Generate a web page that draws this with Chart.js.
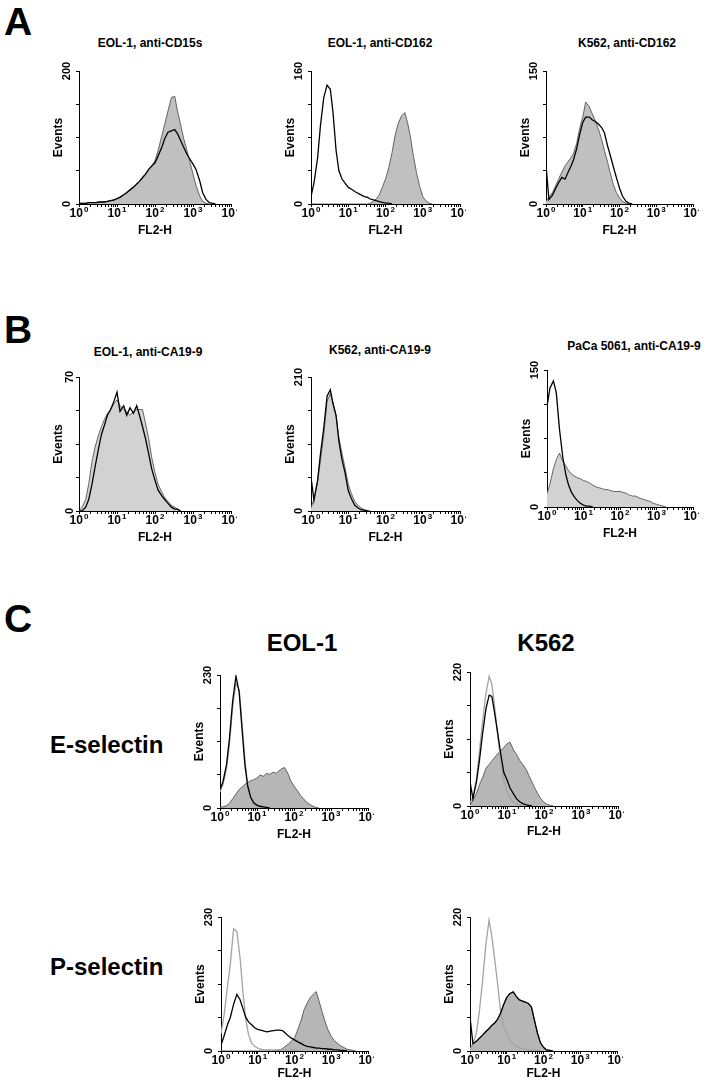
<!DOCTYPE html>
<html>
<head>
<meta charset="UTF-8">
<title>Flow cytometry histograms</title>
<script src="https://cdn.jsdelivr.net/npm/chart.js"></script>
<style>
  body { margin: 0; background: #fff; font-family: "Liberation Sans", Arial, sans-serif; }
  #page { position: relative; width: 712px; height: 1087px; overflow: hidden; }
  canvas { position: absolute; }
  .t { position: absolute; white-space: nowrap; font-weight: bold; color: #000; line-height: 1; }
  .letter { font-size: 39px; }
  .title { font-size: 12px; transform: translateX(-50%); }
  .big { font-size: 24px; }
  .mid { transform: translateX(-50%); }
</style>
</head>
<body>
<div id="page">
  <div class="t letter" style="left:4px; top:2px;">A</div>
  <div class="t letter" style="left:4px; top:310px;">B</div>
  <div class="t letter" style="left:4px; top:599px;">C</div>

  <div class="t title" style="left:150px; top:37px;">EOL-1, anti-CD15s</div>
  <div class="t title" style="left:380px; top:37px;">EOL-1, anti-CD162</div>
  <div class="t title" style="left:627px; top:37px;">K562, anti-CD162</div>

  <div class="t title" style="left:148px; top:346px;">EOL-1, anti-CA19-9</div>
  <div class="t title" style="left:380px; top:344px;">K562, anti-CA19-9</div>
  <div class="t title" style="left:634px; top:340px;">PaCa 5061, anti-CA19-9</div>

  <div class="t big mid" style="left:302px; top:631px;">EOL-1</div>
  <div class="t big mid" style="left:546px; top:631px;">K562</div>
  <div class="t big" style="left:50px; top:733px;">E-selectin</div>
  <div class="t big" style="left:50px; top:955px;">P-selectin</div>
</div>

<script>
// FL2-H channel positions (log scale)
const fl2H = [1, 1.2, 1.5, 1.8, 2.2, 2.7, 3.3, 3.9, 4.7, 5.6, 6.8, 8.2,
  10, 12, 15, 18, 22, 27, 33, 39, 47, 56, 68, 82,
  100, 120, 150, 180, 220, 270, 330, 390, 470, 560, 680, 820,
  1000, 1200, 1500, 1800, 2200, 2700, 3300, 3900, 4700, 5600, 6800, 8200, 10000];
const decades = [1, 10, 100, 1000, 10000];
const decadeExponents = ["0", "1", "2", "3", "4"];

// A: EOL-1, anti-CD15s
const eolCd15sFilled = [1,1,1,2,2,2,2,3,3,4,5,6,
  8,11,14,18,22,26,30,34,38,44,52,58,
  65,80,102,120,140,160,162,140,120,100,82,64,
  45,28,12,4,1,0];
const eolCd15sOpen = [1,1,1,2,2,2,3,3,3,4,5,6,
  8,10,14,17,21,25,30,34,40,45,52,57,
  62,72,85,98,108,110,112,106,96,86,76,68,
  60,52,35,17,7,2,1,0];
// A: EOL-1, anti-CD162
const eolCd162Open = [9,25,55,95,128,143,138,110,65,40,30,25,
  20,18,15,13,11,9,8,6,5,4,3,2,
  1,1,0];
const eolCd162Filled = [0,0,0,0,0,0,0,0,0,0,0,0,
  0,0,0,0,0,0,0,1,3,6,11,20,
  30,42,62,82,97,106,110,98,80,58,38,22,
  9,4,1,0];
// A: K562, anti-CD162
const k562Cd162Filled = [3,8,13,20,28,36,43,47,52,57,68,85,
  98,115,110,102,94,84,72,60,48,35,22,13,
  7,3,1,0];
const k562Cd162Open = [44,5,10,17,24,30,28,35,42,50,62,78,
  92,98,98,95,93,90,86,80,66,55,42,30,
  18,9,3,1,0];

// B: EOL-1, anti-CA19-9
const eolCa199Filled = [0,2,6,14,26,34,40,44,48,51,53,56,
  58,55,53,52,50,52,53,53,53,46,38,28,
  20,14,10,7,5,3,2,1,0];
const eolCa199Open = [0,0,2,6,14,24,33,40,45,50,53,57,
  62,52,55,50,54,51,55,50,44,38,30,22,
  16,11,8,6,4,2,1,1,0];
// B: K562, anti-CA19-9
const k562Ca199Filled = [5,18,45,80,120,172,184,170,150,115,90,68,
  42,28,15,9,5,2,1,0];
const k562Ca199Open = [53,17,48,90,130,180,190,168,150,110,80,60,
  32,20,9,5,2,1,0];
// B: PaCa 5061, anti-CA19-9
const pacaCa199Open = [110,130,138,125,85,55,35,24,16,11,7,4,
  2,1,1,0];
const pacaCa199Filled = [15,25,42,52,59,50,45,40,36,34,32,31,
  29,28,26,24,22,21,20,19,19,18,17,17,
  17,16,15,13,12,12,10,9,8,7,6,4,
  3,2,1,0];

// C: E-selectin, EOL-1
const eolEselOpen = [32,45,75,120,185,228,200,140,75,38,18,9,
  5,3,2,1,0];
const eolEselIso = [28,40,68,110,175,215,205,150,85,40,15,6,
  3,1,0];
const eolEselFilled = [1,2,4,8,16,24,32,36,41,44,47,49,
  52,57,55,60,58,62,60,64,68,70,60,47,
  38,31,22,16,10,6,3,1,0];
// C: E-selectin, K562
const k562EselIso = [5,15,45,90,140,185,213,200,160,115,75,42,
  25,13,6,3,1,0];
const k562EselOpen = [40,12,40,75,120,160,182,180,150,120,85,55,
  43,30,20,12,7,4,2,1,0];
const k562EselFilled = [2,10,21,35,47,62,68,74,80,86,90,96,
  102,105,92,85,75,68,60,50,40,30,20,12,
  6,3,1,0];
// C: P-selectin, EOL-1
const eolPselIso = [30,60,110,150,210,205,160,105,55,28,14,8,
  5,3,2,2,2,2,2,2,2,2,2,2,
  2,1,1,0];
const eolPselOpen = [10,25,45,58,80,97,88,74,58,50,45,40,
  37,36,34,33,34,35,36,36,35,31,26,22,
  19,16,13,10,8,7,6,5,5,4,4,3,
  3,2,2,1,1,0];
const eolPselFilled = [0,0,0,0,0,0,0,0,0,0,0,0,
  0,0,0,0,0,0,1,2,4,8,12,17,
  22,35,52,70,82,92,98,102,85,68,50,36,
  25,18,13,9,6,3,2,1,0];
// C: P-selectin, K562
const k562PselIso = [3,10,30,65,115,175,215,190,150,112,65,42,
  28,18,12,8,5,4,3,2,2,1,1,0];
const k562PselOpen = [56,12,16,21,26,32,37,42,46,52,62,76,
  88,94,97,90,84,82,80,78,72,52,30,14,
  6,2,1,0];
const k562PselFilled = [4,12,16,21,26,32,37,42,46,52,62,76,
  88,94,97,90,84,82,80,78,72,52,30,14,
  6,2,1,0];

const yMaxes = [200, 160, 150, 70, 210, 150, 230, 220, 230, 220];

const FONT = "'Liberation Sans', Arial, sans-serif";
const page = document.getElementById("page");

const minorTicks = [];
decades.slice(0, 4).forEach(d => {
  minorTicks.push(d);
  for (let k = 2; k <= 9; k++) minorTicks.push(d * k);
});
minorTicks.push(10000);

// "10" with a raised exponent under each decade tick
const decadeLabels = {
  id: "decadeLabels",
  afterDraw(chart) {
    const sx = chart.scales.x, ctx = chart.ctx;
    ctx.save();
    ctx.fillStyle = "#000";
    ctx.textBaseline = "alphabetic";
    ctx.textAlign = "left";
    decades.forEach((d, i) => {
      const px = sx.getPixelForValue(d);
      ctx.font = "bold 12px " + FONT;
      const wBase = ctx.measureText("10").width;
      ctx.font = "bold 8px " + FONT;
      const wExp = ctx.measureText(decadeExponents[i]).width;
      const left = px - (wBase + wExp + 1) / 2;
      const base = sx.top + 13;
      ctx.font = "bold 12px " + FONT;
      ctx.fillText("10", left, base);
      ctx.font = "bold 8px " + FONT;
      ctx.fillText(decadeExponents[i], left + wBase + 1, base - 5);
    });
    ctx.restore();
  }
};

function histogram(box, yMax, fillColor, sets) {
  const canvas = document.createElement("canvas");
  canvas.width = 36 + box.w + 6;
  canvas.height = 10 + box.h + box.xh;
  canvas.style.left = (box.x - 36) + "px";
  canvas.style.top = (box.y - 10) + "px";
  page.appendChild(canvas);

  const datasets = sets.map((s, i) => {
    const filled = s.kind === "filled";
    return {
      data: s.values.map((y, j) => ({ x: fl2H[j], y: y })),
      borderColor: s.kind === "iso" ? "#a4a4a4" : (filled ? "#444" : "#000"),
      borderWidth: filled ? 0.8 : 1.3,
      backgroundColor: filled ? fillColor : "transparent",
      fill: filled ? "origin" : false,
      pointRadius: 0,
      tension: 0,
      order: filled ? 10 : i
    };
  });

  new Chart(canvas.getContext("2d"), {
    type: "line",
    data: { datasets: datasets },
    plugins: [decadeLabels],
    options: {
      responsive: false,
      animation: false,
      events: [],
      layout: { padding: { left: 0, top: 10, right: 6, bottom: 0 } },
      plugins: { legend: { display: false }, tooltip: { enabled: false } },
      scales: {
        x: {
          type: "logarithmic",
          min: 1,
          max: 10000,
          afterBuildTicks: s => { s.ticks = minorTicks.map(v => ({ value: v })); },
          afterFit: s => { s.height = box.xh; s.paddingLeft = 0; s.paddingRight = 0; },
          grid: { drawOnChartArea: false, tickLength: 3, color: "#000", lineWidth: 1 },
          border: { color: "#000", width: 1 },
          ticks: { display: false, autoSkip: false },
          title: {
            display: true, text: "FL2-H", color: "#000",
            padding: { top: 0, bottom: 1 },
            font: { family: FONT, size: 12, weight: "bold" }
          }
        },
        y: {
          min: 0,
          max: yMax,
          afterBuildTicks: s => { s.ticks = [0, 1, 2, 3, 4].map(k => ({ value: yMax * k / 4 })); },
          afterFit: s => { s.width = 36; s.paddingTop = 0; s.paddingBottom = 0; },
          grid: { drawOnChartArea: false, tickLength: 3, color: "#000", lineWidth: 1 },
          border: { color: "#000", width: 1 },
          ticks: {
            autoSkip: false, minRotation: 90, maxRotation: 90, crossAlign: "center",
            padding: 0, color: "#000",
            font: { family: FONT, size: 11, weight: "bold" },
            callback: v => (v === 0 || v === yMax) ? String(v) : ""
          },
          title: {
            display: true, text: "Events", color: "#000",
            padding: { top: 8, bottom: 0 },
            font: { family: FONT, size: 12, weight: "bold" }
          }
        }
      }
    }
  });
}

const fillA = "#c0c0c0", fillB = "#d2d2d2", fillC = "#b6b6b6";

histogram({ x: 79, y: 71, w: 152, h: 133, xh: 35 }, yMaxes[0], fillA, [
  { values: eolCd15sOpen, kind: "open" }, { values: eolCd15sFilled, kind: "filled" }]);
histogram({ x: 311, y: 71, w: 149, h: 133, xh: 35 }, yMaxes[1], fillA, [
  { values: eolCd162Open, kind: "open" }, { values: eolCd162Filled, kind: "filled" }]);
histogram({ x: 546, y: 71, w: 147, h: 133, xh: 35 }, yMaxes[2], fillA, [
  { values: k562Cd162Open, kind: "open" }, { values: k562Cd162Filled, kind: "filled" }]);

histogram({ x: 79, y: 377, w: 152, h: 134, xh: 35 }, yMaxes[3], fillB, [
  { values: eolCa199Open, kind: "open" }, { values: eolCa199Filled, kind: "filled" }]);
histogram({ x: 311, y: 377, w: 149, h: 134, xh: 35 }, yMaxes[4], fillB, [
  { values: k562Ca199Open, kind: "open" }, { values: k562Ca199Filled, kind: "filled" }]);
histogram({ x: 547, y: 370, w: 146, h: 137, xh: 35 }, yMaxes[5], fillB, [
  { values: pacaCa199Open, kind: "open" }, { values: pacaCa199Filled, kind: "filled" }]);

histogram({ x: 220, y: 675, w: 148, h: 133, xh: 35 }, yMaxes[6], fillC, [
  { values: eolEselOpen, kind: "open" }, { values: eolEselIso, kind: "iso" },
  { values: eolEselFilled, kind: "filled" }]);
histogram({ x: 470, y: 672, w: 148, h: 134, xh: 34 }, yMaxes[7], fillC, [
  { values: k562EselOpen, kind: "open" }, { values: k562EselIso, kind: "iso" },
  { values: k562EselFilled, kind: "filled" }]);
histogram({ x: 221, y: 917, w: 147, h: 134, xh: 31 }, yMaxes[8], fillC, [
  { values: eolPselOpen, kind: "open" }, { values: eolPselIso, kind: "iso" },
  { values: eolPselFilled, kind: "filled" }]);
histogram({ x: 470, y: 917, w: 147, h: 134, xh: 31 }, yMaxes[9], fillC, [
  { values: k562PselOpen, kind: "open" }, { values: k562PselIso, kind: "iso" },
  { values: k562PselFilled, kind: "filled" }]);
</script>
</body>
</html>
